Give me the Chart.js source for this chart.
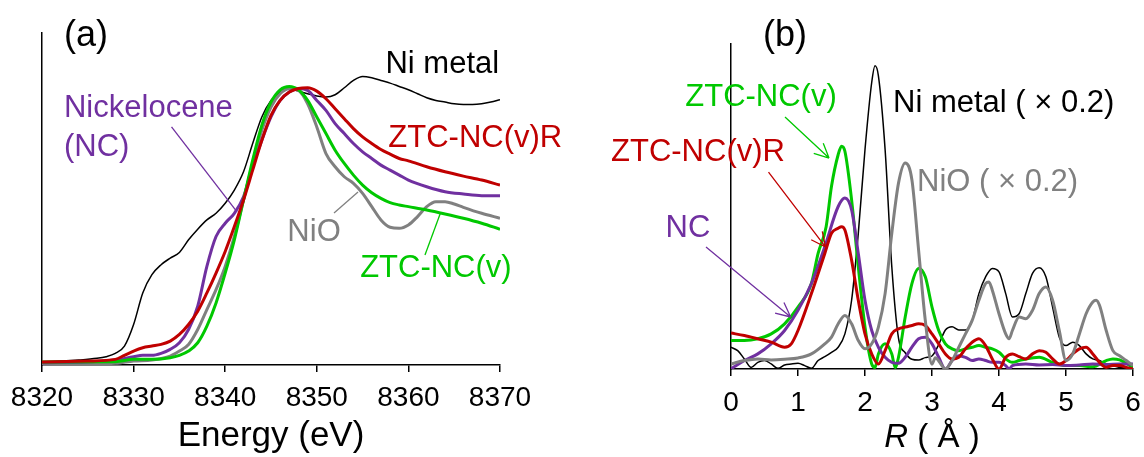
<!DOCTYPE html>
<html>
<head>
<meta charset="utf-8">
<script src="https://cdn.jsdelivr.net/npm/chart.js@4.4.1/dist/chart.umd.min.js"></script>
<style>
  body { margin: 0; background: #fff; }
  .panel { position: absolute; top: 0; width: 572px; height: 457px; }
</style>
</head>
<body>
<div class="panel" style="left:0"><canvas id="xanes" width="572" height="457"></canvas></div>
<div class="panel" style="left:572px"><canvas id="exafs" width="572" height="457"></canvas></div>
<script>
// (a) XANES, Ni K-edge
const niMetalE = [8320, 8322, 8324, 8326, 8327, 8328, 8329, 8330, 8331, 8332, 8333, 8334, 8335, 8336, 8337, 8338, 8339, 8340, 8341, 8342, 8343, 8344, 8345, 8346, 8347, 8348, 8349, 8350, 8351, 8352, 8353, 8354, 8355, 8356, 8357, 8358, 8359, 8360, 8361, 8362, 8363, 8364, 8365, 8366, 8367, 8368, 8369, 8370]
const niMetalMu = [0.020, 0.024, 0.030, 0.040, 0.050, 0.070, 0.114, 0.244, 0.434, 0.544, 0.604, 0.644, 0.678, 0.754, 0.818, 0.874, 0.914, 0.974, 1.054, 1.164, 1.334, 1.494, 1.594, 1.644, 1.664, 1.650, 1.634, 1.620, 1.614, 1.628, 1.670, 1.714, 1.738, 1.730, 1.714, 1.698, 1.678, 1.658, 1.634, 1.610, 1.594, 1.584, 1.574, 1.570, 1.570, 1.574, 1.584, 1.598]

const ncE = [8320, 8325, 8328, 8330, 8331, 8332, 8333, 8334, 8335, 8336, 8337, 8338, 8339, 8340, 8341, 8342, 8343, 8344, 8345, 8346, 8347, 8348, 8349, 8350, 8351, 8352, 8353, 8354, 8355, 8356, 8357, 8358, 8359, 8360, 8362, 8364, 8366, 8368, 8370]
const ncMu = [0.014, 0.018, 0.030, 0.050, 0.058, 0.058, 0.070, 0.094, 0.134, 0.214, 0.354, 0.594, 0.774, 0.854, 0.914, 1.014, 1.194, 1.354, 1.494, 1.594, 1.644, 1.664, 1.654, 1.594, 1.534, 1.454, 1.394, 1.334, 1.284, 1.244, 1.204, 1.174, 1.144, 1.114, 1.074, 1.044, 1.030, 1.020, 1.020]

const ztcRE = [8320, 8325, 8328, 8329, 8330, 8331, 8332, 8333, 8334, 8335, 8336, 8337, 8338, 8339, 8340, 8341, 8342, 8343, 8344, 8345, 8346, 8347, 8348, 8349, 8350, 8351, 8352, 8353, 8354, 8355, 8356, 8357, 8358, 8359, 8360, 8362, 8364, 8366, 8368, 8370]
const ztcRMu = [0.018, 0.024, 0.034, 0.058, 0.084, 0.104, 0.114, 0.124, 0.144, 0.184, 0.244, 0.324, 0.434, 0.554, 0.684, 0.834, 0.994, 1.174, 1.354, 1.504, 1.594, 1.644, 1.666, 1.670, 1.650, 1.604, 1.544, 1.484, 1.424, 1.374, 1.334, 1.298, 1.270, 1.244, 1.230, 1.194, 1.164, 1.138, 1.114, 1.084]

const nioE = [8320, 8328, 8330, 8332, 8334, 8335, 8336, 8337, 8338, 8339, 8340, 8341, 8342, 8343, 8344, 8345, 8346, 8347, 8348, 8349, 8350, 8351, 8352, 8353, 8354, 8355, 8356, 8357, 8358, 8359, 8360, 8361, 8362, 8363, 8364, 8365, 8366, 8368, 8370]
const nioMu = [0.004, 0.010, 0.024, 0.030, 0.054, 0.084, 0.124, 0.214, 0.334, 0.454, 0.594, 0.774, 0.994, 1.214, 1.414, 1.554, 1.634, 1.664, 1.654, 1.574, 1.434, 1.274, 1.194, 1.134, 1.094, 1.034, 0.954, 0.874, 0.830, 0.824, 0.844, 0.894, 0.954, 0.984, 0.984, 0.970, 0.950, 0.914, 0.884]

const ztcE = [8320, 8328, 8330, 8332, 8334, 8335, 8336, 8337, 8338, 8339, 8340, 8341, 8342, 8343, 8344, 8345, 8346, 8347, 8348, 8349, 8350, 8351, 8352, 8353, 8354, 8355, 8356, 8357, 8358, 8359, 8360, 8362, 8364, 8366, 8368, 8370]
const ztcMu = [0.018, 0.020, 0.034, 0.034, 0.044, 0.058, 0.084, 0.134, 0.234, 0.374, 0.554, 0.754, 0.994, 1.234, 1.444, 1.584, 1.658, 1.678, 1.658, 1.594, 1.494, 1.394, 1.294, 1.214, 1.144, 1.084, 1.038, 1.004, 0.978, 0.964, 0.954, 0.934, 0.910, 0.884, 0.854, 0.818]

// (b) Fourier transforms, R in angstrom
const niMetalR = [0, 0.1, 0.2, 0.3, 0.4, 0.5, 0.6, 0.7, 0.8, 0.9, 1.0, 1.1, 1.2, 1.3, 1.4, 1.5, 1.6, 1.7, 1.8, 1.9, 2.0, 2.1, 2.15, 2.2, 2.3, 2.4, 2.5, 2.6, 2.7, 2.8, 2.9, 3.0, 3.1, 3.2, 3.3, 3.4, 3.5, 3.6, 3.7, 3.8, 3.9, 4.0, 4.1, 4.2, 4.3, 4.4, 4.5, 4.6, 4.7, 4.8, 4.9, 5.0, 5.1, 5.2, 5.3, 5.4, 5.5, 5.6, 5.7, 5.8, 5.9, 6.0]
const niMetalFt = [0.134, 0.113, 0.062, 0.010, 0.041, 0.052, 0.031, 0.004, 0.025, 0.031, 0.035, 0.021, 0.004, 0.052, 0.076, 0.103, 0.134, 0.216, 0.423, 0.835, 1.351, 1.763, 1.866, 1.804, 1.351, 0.629, 0.190, 0.100, 0.060, 0.055, 0.070, 0.080, 0.150, 0.240, 0.260, 0.240, 0.240, 0.299, 0.464, 0.567, 0.619, 0.598, 0.464, 0.320, 0.340, 0.464, 0.588, 0.623, 0.567, 0.381, 0.196, 0.144, 0.165, 0.144, 0.093, 0.062, 0.052, 0.031, 0.021, 0.010, 0.010, 0.004]

const ztcR = [0, 0.2, 0.4, 0.6, 0.8, 1.0, 1.2, 1.3, 1.42, 1.5, 1.6, 1.65, 1.7, 1.8, 1.9, 2.0, 2.1, 2.15, 2.2, 2.3, 2.4, 2.45, 2.5, 2.6, 2.7, 2.8, 2.9, 3.0, 3.1, 3.2, 3.3, 3.4, 3.5, 3.6, 3.7, 3.8, 3.9, 4.0, 4.1, 4.2, 4.3, 4.4, 4.6, 4.8, 5.0, 5.2, 5.4, 5.6, 5.7, 5.8, 6.0]
const ztcFt = [0.175, 0.175, 0.186, 0.216, 0.278, 0.381, 0.526, 0.711, 0.876, 1.124, 1.320, 1.371, 1.340, 1.041, 0.629, 0.258, 0.031, 0.010, 0.093, 0.155, 0.093, 0.010, 0.072, 0.320, 0.526, 0.619, 0.567, 0.381, 0.237, 0.155, 0.124, 0.113, 0.124, 0.134, 0.144, 0.134, 0.124, 0.103, 0.062, 0.041, 0.052, 0.062, 0.072, 0.041, 0.021, 0.021, 0.014, 0.052, 0.062, 0.056, 0.010]

const ncR = [0, 0.2, 0.4, 0.6, 0.8, 1.0, 1.2, 1.4, 1.6, 1.7, 1.8, 1.9, 2.0, 2.1, 2.2, 2.3, 2.4, 2.5, 2.6, 2.7, 2.8, 2.9, 3.0, 3.1, 3.2, 3.3, 3.4, 3.5, 3.6, 3.7, 3.8, 3.9, 4.0, 4.1, 4.15, 4.2, 4.4, 4.6, 4.8, 5.0, 5.2, 5.4, 5.6, 5.8, 6.0]
const ncFt = [0.0, 0.052, 0.093, 0.155, 0.237, 0.361, 0.526, 0.753, 1.000, 1.052, 0.979, 0.711, 0.423, 0.237, 0.134, 0.072, 0.041, 0.035, 0.072, 0.134, 0.186, 0.196, 0.155, 0.072, 0.0, 0.052, 0.082, 0.072, 0.052, 0.062, 0.052, 0.041, 0.041, 0.021, 0.0, 0.021, 0.031, 0.025, 0.027, 0.021, 0.025, 0.031, 0.027, 0.031, 0.031]

const ztcRR = [0, 0.2, 0.4, 0.6, 0.8, 0.9, 1.0, 1.2, 1.4, 1.5, 1.6, 1.65, 1.7, 1.8, 1.9, 2.0, 2.1, 2.2, 2.3, 2.4, 2.5, 2.6, 2.7, 2.8, 2.9, 3.0, 3.1, 3.2, 3.3, 3.4, 3.5, 3.6, 3.7, 3.8, 3.9, 4.0, 4.1, 4.2, 4.3, 4.4, 4.5, 4.6, 4.7, 4.8, 4.9, 5.0, 5.1, 5.2, 5.3, 5.4, 5.5, 5.6, 5.7, 5.8, 5.9, 6.0]
const ztcRFt = [0.221, 0.206, 0.186, 0.165, 0.134, 0.155, 0.237, 0.464, 0.711, 0.835, 0.866, 0.876, 0.856, 0.670, 0.423, 0.216, 0.093, 0.031, 0.113, 0.216, 0.247, 0.258, 0.268, 0.278, 0.268, 0.216, 0.155, 0.093, 0.062, 0.072, 0.124, 0.165, 0.186, 0.144, 0.062, 0.0, 0.072, 0.093, 0.076, 0.062, 0.093, 0.113, 0.103, 0.062, 0.031, 0.052, 0.093, 0.124, 0.134, 0.093, 0.041, 0.010, 0.021, 0.021, 0.010, 0.0]

const nioR = [0, 0.2, 0.4, 0.6, 0.8, 1.0, 1.2, 1.4, 1.5, 1.6, 1.7, 1.8, 1.9, 2.0, 2.1, 2.2, 2.3, 2.4, 2.5, 2.6, 2.7, 2.8, 2.9, 3.0, 3.05, 3.1, 3.2, 3.3, 3.4, 3.5, 3.6, 3.7, 3.8, 3.85, 3.9, 4.0, 4.1, 4.15, 4.2, 4.3, 4.4, 4.5, 4.6, 4.7, 4.8, 4.9, 5.0, 5.1, 5.2, 5.3, 5.4, 5.45, 5.5, 5.6, 5.7, 5.8, 5.9, 6.0]
const nioFt = [0.031, 0.052, 0.062, 0.056, 0.060, 0.068, 0.093, 0.155, 0.196, 0.278, 0.330, 0.278, 0.175, 0.124, 0.155, 0.258, 0.464, 0.835, 1.144, 1.268, 1.165, 0.732, 0.299, 0.030, 0.070, 0.050, 0.0, 0.052, 0.134, 0.216, 0.299, 0.423, 0.526, 0.536, 0.485, 0.340, 0.216, 0.186, 0.237, 0.320, 0.309, 0.361, 0.464, 0.505, 0.423, 0.237, 0.052, 0.093, 0.216, 0.340, 0.412, 0.423, 0.392, 0.237, 0.113, 0.082, 0.052, 0.021]

const BLACK = '#000000'
const RED = '#C00000'
const GREEN = '#00C800'
const PURPLE = '#7030A0'
const GRAY = '#808080'

// text labels and pointer lines, placed in data units
const xanesLabels = [
    {text: '(a)', x: 8324.8, y: 1.98, color: BLACK, size: 36, align: 'center'},
    {text: 'Ni metal', x: 8363.7, y: 1.813, color: BLACK, size: 31, align: 'center'},
    {text: 'ZTC-NC(v)R', x: 8367.3, y: 1.367, color: RED, size: 31, align: 'center'},
    {text: 'Nickelocene', x: 8322.4, y: 1.548, color: PURPLE, size: 31, align: 'left'},
    {text: '(NC)', x: 8322.4, y: 1.313, color: PURPLE, size: 31, align: 'left'},
    {text: 'NiO', x: 8349.7, y: 0.801, color: GRAY, size: 31, align: 'center'},
    {text: 'ZTC-NC(v)', x: 8363.0, y: 0.584, color: GREEN, size: 31, align: 'center'},
]
const xanesPointers = [
    {from: [8334.14, 1.434], to: [8341.29, 0.922], color: PURPLE, head: false},
    {from: [8351.88, 0.916], to: [8354.50, 1.042], color: GRAY, head: false},
    {from: [8361.81, 0.663], to: [8363.50, 0.916], color: GREEN, head: false},
]
const exafsLabels = [
    {text: '(b)', x: 0.806, y: 2.049, color: BLACK, size: 36, align: 'center'},
    {text: 'ZTC-NC(v)', x: 0.448, y: 1.668, color: GREEN, size: 31, align: 'center'},
    {text: 'Ni metal ( × 0.2)', x: 2.418, y: 1.637, color: BLACK, size: 31, align: 'left'},
    {text: 'ZTC-NC(v)R', x: -0.493, y: 1.335, color: RED, size: 31, align: 'center'},
    {text: 'NiO ( × 0.2)', x: 2.776, y: 1.145, color: GRAY, size: 31, align: 'left'},
    {text: 'NC', x: -0.642, y: 0.862, color: PURPLE, size: 31, align: 'center'},
]
const exafsPointers = [
    {from: [0.806, 1.551], to: [1.463, 1.298], color: GREEN, head: true},
    {from: [0.560, 1.212], to: [1.410, 0.751], color: RED, head: true},
    {from: [-0.373, 0.751], to: [0.890, 0.320], color: PURPLE, head: true},
]

Chart.defaults.font.family = "'Liberation Sans', Arial, sans-serif"
Chart.defaults.color = '#000'

function series(xs, ys, color, width) {
    return {
        data: xs.map((x, i) => ({x: x, y: ys[i]})),
        borderColor: color,
        borderWidth: width,
        pointRadius: 0,
        fill: false,
        cubicInterpolationMode: 'monotone',
    }
}

const annotate = {
    id: 'annotate',
    afterDraw(chart, args, opts) {
        const {ctx, scales: {x, y}} = chart
        ctx.save()
        opts.pointers.forEach(p => {
            const x1 = x.getPixelForValue(p.from[0]), y1 = y.getPixelForValue(p.from[1])
            const x2 = x.getPixelForValue(p.to[0]), y2 = y.getPixelForValue(p.to[1])
            ctx.strokeStyle = p.color
            ctx.lineWidth = 1.3
            ctx.beginPath()
            ctx.moveTo(x1, y1)
            ctx.lineTo(x2, y2)
            if (p.head) {
                const a = Math.atan2(y2 - y1, x2 - x1)
                for (const d of [0.45, -0.45]) {
                    ctx.moveTo(x2, y2)
                    ctx.lineTo(x2 - 16 * Math.cos(a + d), y2 - 16 * Math.sin(a + d))
                }
            }
            ctx.stroke()
        })
        opts.labels.forEach(l => {
            ctx.font = l.size + "px 'Liberation Sans', Arial, sans-serif"
            ctx.fillStyle = l.color
            ctx.textAlign = l.align
            ctx.textBaseline = 'middle'
            ctx.fillText(l.text, x.getPixelForValue(l.x), y.getPixelForValue(l.y))
        })
        if (opts.rTitle) {
            // "R ( Å )" with italic R
            const cx = (chart.chartArea.left + chart.chartArea.right) / 2
            const ty = 438
            ctx.fillStyle = BLACK
            ctx.textBaseline = 'middle'
            ctx.textAlign = 'left'
            ctx.font = "italic 33px 'Liberation Sans', Arial, sans-serif"
            const wR = ctx.measureText('R').width
            ctx.font = "33px 'Liberation Sans', Arial, sans-serif"
            const rest = ' ( Å )'
            const wRest = ctx.measureText(rest).width
            const start = cx - (wR + wRest) / 2
            ctx.font = "italic 33px 'Liberation Sans', Arial, sans-serif"
            ctx.fillText('R', start, ty)
            ctx.font = "33px 'Liberation Sans', Arial, sans-serif"
            ctx.fillText(rest, start + wR, ty)
        }
        ctx.restore()
    }
}

function axes(xmin, xmax, step, tickPad, xHeight, title) {
    return {
        x: {
            type: 'linear', min: xmin, max: xmax,
            ticks: {stepSize: step, font: {size: 28}, color: BLACK, padding: tickPad, maxRotation: 0, callback: v => String(v)},
            grid: {drawOnChartArea: false, color: BLACK, tickLength: 7, lineWidth: 1.5},
            border: {color: BLACK, width: 1.5},
            title: {display: !!title, text: title, font: {size: 35}, color: BLACK, padding: {top: 0, bottom: 0}},
            afterFit: s => { s.height = xHeight; s.paddingLeft = 0; s.paddingRight = 0 },
        },
        y: {
            min: 0, max: 2,
            ticks: {display: false},
            grid: {display: false},
            border: {color: BLACK, width: 1.5},
            afterFit: s => { s.width = 0 },
        },
    }
}

new Chart(document.getElementById('xanes'), {
    type: 'line',
    data: {
        datasets: [
            series(ztcRE, ztcRMu, RED, 3),
            series(ztcE, ztcMu, GREEN, 3),
            series(ncE, ncMu, PURPLE, 3),
            series(nioE, nioMu, GRAY, 3),
            series(niMetalE, niMetalMu, BLACK, 1.5),
        ]
    },
    options: {
        responsive: false,
        animation: false,
        layout: {padding: {left: 42, right: 72, top: 33, bottom: 0}},
        scales: axes(8320, 8370, 10, 9, 92, 'Energy (eV)'),
        plugins: {
            legend: {display: false},
            tooltip: {enabled: false},
            annotate: {labels: xanesLabels, pointers: xanesPointers, rTitle: false},
        },
    },
    plugins: [annotate],
})

new Chart(document.getElementById('exafs'), {
    type: 'line',
    data: {
        datasets: [
            series(nioR, nioFt, GRAY, 3),
            series(ztcRR, ztcRFt, RED, 3),
            series(ncR, ncFt, PURPLE, 3),
            series(ztcR, ztcFt, GREEN, 3),
            series(niMetalR, niMetalFt, BLACK, 1.5),
        ]
    },
    options: {
        responsive: false,
        animation: false,
        layout: {padding: {left: 159, right: 11, top: 44, bottom: 0}},
        scales: axes(0, 6, 1, 10, 88, ''),
        plugins: {
            legend: {display: false},
            tooltip: {enabled: false},
            annotate: {labels: exafsLabels, pointers: exafsPointers, rTitle: true},
        },
    },
    plugins: [annotate],
})
</script>
</body>
</html>
